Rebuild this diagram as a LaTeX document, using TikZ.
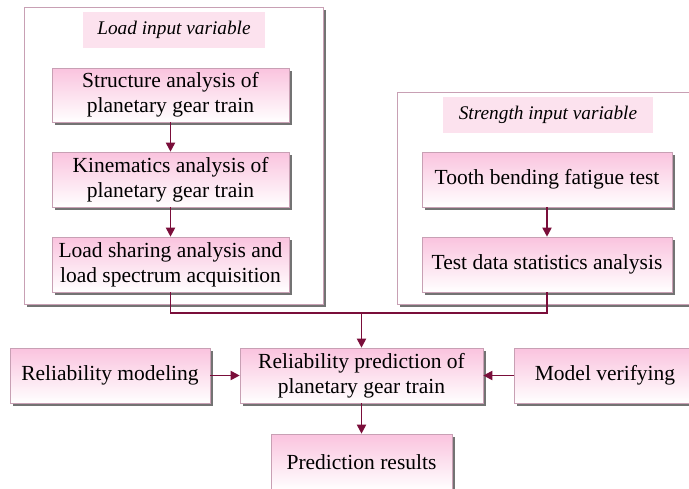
\documentclass[tikz,border=0pt]{standalone}
\usepackage{fontspec}
\setmainfont{Liberation Serif}
\usetikzlibrary{shadows,arrows.meta}
\definecolor{arrowc}{RGB}{122,14,58}
\definecolor{boxline}{RGB}{200,160,180}
\definecolor{pinktop}{RGB}{250,195,222}
\definecolor{titlefill}{RGB}{252,226,238}
\tikzset{
  myshadow/.style={drop shadow={shadow xshift=3pt,shadow yshift=-3pt,fill=black!55,opacity=1}},
  gbox/.style={draw=boxline, line width=0.6pt, top color=pinktop, bottom color=white, myshadow,
    align=center, inner sep=0pt, font=\fontsize{21.5}{25}\selectfont},
  container/.style={draw=boxline, fill=white, line width=0.6pt, myshadow, inner sep=0pt},
  titlebox/.style={fill=titlefill, inner sep=0pt, font=\fontsize{19.3}{22}\selectfont\itshape},
  conn/.style={draw=arrowc, line width=1.8pt},
  arr/.style={conn, -{Triangle[length=9pt,width=9pt]}},
}
\begin{document}
\begin{tikzpicture}[x=1pt,y=-1pt]
\useasboundingbox (0,0) rectangle (689,488);
\clip (0,0) rectangle (689,488);
\fill[white] (0,0) rectangle (689,488);

% containers
\node[container, minimum width=299pt, minimum height=297pt] (lc) at (173.5,155.5) {};
\node[container, minimum width=300pt, minimum height=212pt] (rc) at (547,198) {};

% titles
\node[titlebox, minimum width=182pt, minimum height=36pt] (lt) at (174,30) {Load input variable};
\node[titlebox, minimum width=210pt, minimum height=36pt] (rt) at (548,115) {Strength input variable};

% left column
\node[gbox, minimum width=237pt, minimum height=54pt] (s1) at (170.5,95) {Structure analysis of\\planetary gear train};
\node[gbox, minimum width=237pt, minimum height=55pt] (s2) at (170.5,179.5) {Kinematics analysis of\\planetary gear train};
\node[gbox, minimum width=237pt, minimum height=55pt] (s3) at (170.5,264.5) {Load sharing analysis and\\load spectrum acquisition};

% right column
\node[gbox, minimum width=250pt, minimum height=55pt] (t1) at (547,179.5) {Tooth bending fatigue test};
\node[gbox, minimum width=250pt, minimum height=55pt] (t2) at (547,264.5) {Test data statistics analysis};

% bottom row
\node[gbox, minimum width=200pt, minimum height=55pt] (rm) at (110,375.5) {Reliability modeling};
\node[gbox, minimum width=243pt, minimum height=55pt] (rp) at (361.5,375.5) {Reliability prediction of\\planetary gear train};
\node[gbox, minimum width=182pt, minimum height=55pt] (mv) at (605,375.5) {Model verifying};
\node[gbox, minimum width=181pt, minimum height=56pt] (pr) at (361.5,462) {Prediction results};

\coordinate (merge) at (361.5,313);

% connectors
\draw[arr] (s1.south) -- (s2.north);
\draw[arr] (s2.south) -- (s3.north);
\draw[arr] (t1.south) -- (t2.north);
\draw[conn] (s3.south) |- (merge) -| (t2.south);
\draw[arr] (merge) -- (rp.north);
\draw[arr] (rm.east) -- (rp.west);
\draw[arr] (mv.west) -- (rp.east);
\draw[arr] (rp.south) -- (pr.north);
\end{tikzpicture}
\end{document}
